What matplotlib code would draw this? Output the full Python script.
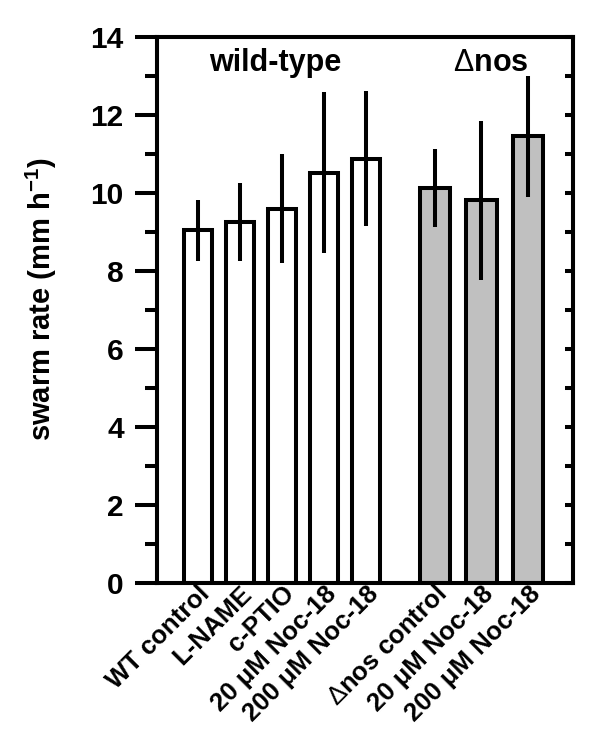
import numpy as np
import matplotlib
matplotlib.use("Agg")
import matplotlib.pyplot as plt
from matplotlib.ticker import MultipleLocator
from matplotlib.transforms import ScaledTranslation

plt.rcParams['font.family'] = ['Liberation Sans', 'DejaVu Sans']
plt.rcParams['mathtext.fontset'] = 'custom'
plt.rcParams['mathtext.rm'] = 'Liberation Sans'
plt.rcParams['mathtext.bf'] = 'Liberation Sans:bold'
plt.rcParams['mathtext.it'] = 'Liberation Sans:italic'

# data
wt_labels = ["WT control", "L-NAME", "c-PTIO", "20 \u03bcM Noc-18", "200 \u03bcM Noc-18"]
nos_labels = [r"$\Delta$nos control", "20 \u03bcM Noc-18", "200 \u03bcM Noc-18"]
wt_means = [9.04, 9.26, 9.60, 10.52, 10.88]
wt_err = [0.79, 1.00, 1.40, 2.07, 1.73]
nos_means = [10.14, 9.81, 11.45]
nos_err = [1.00, 2.04, 1.54]
y_ticks = [0, 2, 4, 6, 8, 10, 12, 14]

fig = plt.figure(figsize=(6.0, 7.43), dpi=100)
ax = fig.add_axes([0.2617, 0.2153, 0.6933, 0.7349])

lw = 2.9
x_wt = np.arange(len(wt_means)) * 1.0
x_nos = 5.64 + np.arange(len(nos_means)) * 1.11

ax.bar(x_wt, wt_means, width=0.66, color='white', edgecolor='black', linewidth=lw, zorder=2)
ax.bar(x_nos, nos_means, width=0.72, color='#c0c0c0', edgecolor='black', linewidth=lw, zorder=2)
ax.errorbar(x_wt, wt_means, yerr=wt_err, fmt='none', ecolor='black', elinewidth=lw, capsize=0, zorder=3)
ax.errorbar(x_nos, nos_means, yerr=nos_err, fmt='none', ecolor='black', elinewidth=lw, capsize=0, zorder=3)

ax.set_xlim(-0.976, 8.93)
ax.set_ylim(0, 14)
ax.set_yticks(y_ticks)
ax.yaxis.set_minor_locator(MultipleLocator(1))
ax.set_yticklabels([str(t) for t in y_ticks], fontsize=21.5, fontweight='bold')

xpos = list(x_wt) + list(x_nos)
ax.set_xticks(xpos)
ax.set_xticklabels(wt_labels + nos_labels, fontsize=18.5, fontweight='bold',
                   rotation=45, ha='right', va='center', rotation_mode='anchor')
ax.tick_params(axis='x', length=0, pad=5)
shift = ScaledTranslation(6 / 72, 0, fig.dpi_scale_trans)
for lab in ax.get_xticklabels():
    lab.set_transform(lab.get_transform() + shift)

ax.tick_params(axis='y', which='major', direction='out', length=16, width=lw, pad=8, left=True, right=False)
ax.tick_params(axis='y', which='minor', direction='out', length=8.5, width=lw, left=True, right=False)

# right-side inward ticks
axr = ax.twinx()
axr.set_ylim(0, 14)
axr.set_yticks(y_ticks)
axr.yaxis.set_minor_locator(MultipleLocator(1))
axr.tick_params(axis='y', which='both', direction='in', length=6, width=lw, labelright=False)

for a in (ax, axr):
    for s in a.spines.values():
        s.set_linewidth(lw)

ax.set_ylabel(r"swarm rate (mm h$^{\mathbf{-1}}$)", fontsize=21, fontweight='bold')
ax.yaxis.set_label_coords(-0.235, 0.52)

ax.text(1.83, 13.33, "wild-type", fontsize=22, fontweight='bold', ha='center', va='center')
ax.text(6.98, 13.33, r"$\Delta$nos", fontsize=22, fontweight='bold', ha='center', va='center')

fig.savefig("out.png", dpi=100)
